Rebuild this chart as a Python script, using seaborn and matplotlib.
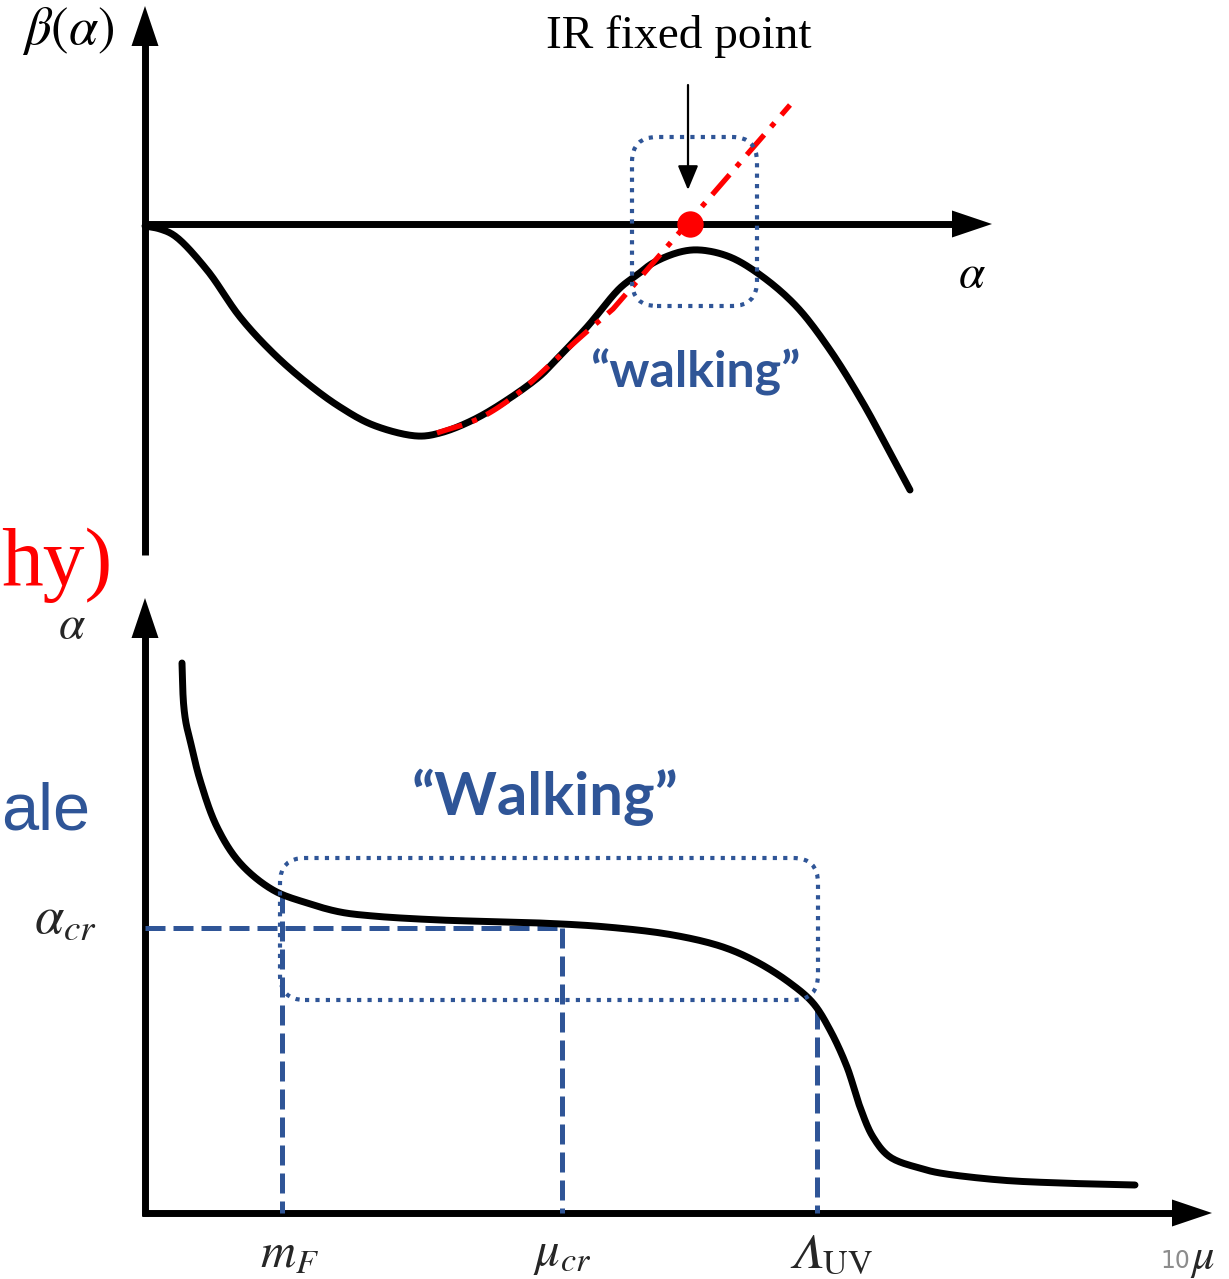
import numpy as np
import matplotlib
matplotlib.use("Agg")
import matplotlib.pyplot as plt
from matplotlib.patches import FancyBboxPatch, Polygon
import seaborn as sns

# ---- beta function beta(alpha) ----
beta_alpha = [0.00, 0.15, 0.30, 0.62, 0.95, 1.28, 1.62, 1.95, 2.28, 2.72, 2.95,
              3.28, 3.62, 3.95, 4.08, 4.42, 4.75, 4.92, 5.08, 5.35, 5.55, 5.85, 6.18,
              6.52, 6.85, 7.18, 7.42, 7.65]
beta_vals = [-0.02, -0.05, -0.12, -0.46, -0.93, -1.29, -1.59, -1.83, -2.01, -2.12, -2.09,
             -1.96, -1.76, -1.52, -1.39, -1.03, -0.64, -0.51, -0.39, -0.28, -0.26, -0.33, -0.53,
             -0.83, -1.26, -1.79, -2.23, -2.66]

# walking (near-conformal) approach toward the IR fixed point
walk_alpha = [2.92, 3.35, 3.72, 4.08, 4.38, 4.68, 6.45]
walk_beta = [-2.09, -1.94, -1.70, -1.38, -1.11, -0.85, 1.19]
ir_fixed_point = 5.45

# ---- running coupling alpha(mu) ----
mu_vals = [0.37, 0.385, 0.41, 0.45, 0.55, 0.72, 0.95, 1.28, 1.62, 1.95, 2.28, 2.95, 3.95,
           4.62, 5.28, 5.78, 6.12, 6.45, 6.68, 6.85, 7.02, 7.15, 7.28, 7.45, 7.78, 7.95,
           8.55, 9.15, 9.90]
alpha_vals = [5.50, 5.10, 4.90, 4.73, 4.33, 3.86, 3.50, 3.23, 3.10, 3.01, 2.97, 2.93, 2.90,
              2.86, 2.78, 2.66, 2.51, 2.30, 2.10, 1.83, 1.46, 1.06, 0.76, 0.56, 0.44, 0.40,
              0.33, 0.30, 0.28]
alpha_cr = 2.85
scale_mu = [1.37, 4.17, 6.72]
scale_labels = [r"$m_F$", r"$\mu_{cr}$", "$\U0001D6EC_{\\mathrm{UV}}$"]

BLUE = "#2F5597"
LW = 5.0

sns.set_theme(style="white")
plt.rcParams["font.family"] = ["DejaVu Sans"]
plt.rcParams["mathtext.fontset"] = "stix"

fig = plt.figure(figsize=(12.29, 12.79), dpi=100)
fig.patch.set_facecolor("white")

ax_top = fig.add_axes([0, 679 / 1279, 1, 600 / 1279])
ax_top.set_xlim(-1.45, 10.84)
ax_top.set_ylim(-3.76, 2.24)
ax_bot = fig.add_axes([0, 0, 1, 699 / 1279])
ax_bot.set_xlim(-1.45, 10.84)
ax_bot.set_ylim(-0.66, 6.33)
for ax in (ax_top, ax_bot):
    ax.set_axis_off()
    ax.patch.set_alpha(0)


def smooth_path(xs, ys, n=16):
    """Centripetal Catmull-Rom path through the given points, for a hand-drawn look."""
    p = np.column_stack([xs, ys]).astype(float)
    p = np.vstack([2 * p[0] - p[1], p, 2 * p[-1] - p[-2]])
    out = []
    for i in range(1, len(p) - 2):
        p0, p1, p2, p3 = p[i - 1], p[i], p[i + 1], p[i + 2]
        t0 = 0.0
        t1 = t0 + np.linalg.norm(p1 - p0) ** 0.5
        t2 = t1 + np.linalg.norm(p2 - p1) ** 0.5
        t3 = t2 + np.linalg.norm(p3 - p2) ** 0.5
        t = np.linspace(t1, t2, n, endpoint=False)[:, None]
        a1 = (t1 - t) / (t1 - t0) * p0 + (t - t0) / (t1 - t0) * p1
        a2 = (t2 - t) / (t2 - t1) * p1 + (t - t1) / (t2 - t1) * p2
        a3 = (t3 - t) / (t3 - t2) * p2 + (t - t2) / (t3 - t2) * p3
        b1 = (t2 - t) / (t2 - t0) * a1 + (t - t0) / (t2 - t0) * a2
        b2 = (t3 - t) / (t3 - t1) * a2 + (t - t1) / (t3 - t1) * a3
        out.append((t2 - t) / (t2 - t1) * b1 + (t - t1) / (t2 - t1) * b2)
    out.append(p[-2][None, :])
    c = np.vstack(out)
    return c[:, 0], c[:, 1]


def axis_arrow(ax, start, end, head_len=0.40, head_half=0.135):
    p0 = np.array(start, float)
    p1 = np.array(end, float)
    u = (p1 - p0) / np.hypot(*(p1 - p0))
    n = np.array([-u[1], u[0]])
    base = p1 - u * head_len
    ax.plot([p0[0], base[0] + u[0] * 0.05], [p0[1], base[1] + u[1] * 0.05],
            color="black", lw=LW, solid_capstyle="butt", clip_on=False, zorder=3)
    ax.add_patch(Polygon([p1, base + n * head_half, base - n * head_half], closed=True,
                         facecolor="black", edgecolor="none", clip_on=False, zorder=3))


# ---------------- top: beta(alpha) ----------------
axis_arrow(ax_top, (0, -3.31), (0, 2.18))
axis_arrow(ax_top, (-0.03, 0), (8.47, 0))

bx, by = smooth_path(beta_alpha, beta_vals)
sns.lineplot(x=bx, y=by, ax=ax_top, color="black", lw=LW,
             sort=False, estimator=None, zorder=4)
wx, wy = smooth_path(walk_alpha[:-1], walk_beta[:-1])
wx = np.append(wx, walk_alpha[-1])
wy = np.append(wy, walk_beta[-1])
ax_top.plot(wx, wy, color="#FF0000", lw=3.8,
            linestyle=(0, (5, 2, 1, 2)), zorder=5)
ax_top.plot([ir_fixed_point], [0], marker="o", ms=19, color="#FF0000",
            markeredgewidth=0, zorder=6)

ax_top.add_patch(FancyBboxPatch((4.87, -0.82), 1.25, 1.69,
                                boxstyle="round,pad=0,rounding_size=0.25",
                                fill=False, edgecolor=BLUE, lw=3.0,
                                linestyle=(0, (1, 1.5)), zorder=7))
ax_top.annotate("", xy=(5.43, 0.34), xytext=(5.43, 1.39),
                arrowprops=dict(arrowstyle="-|>,head_length=0.6,head_width=0.25",
                                mutation_scale=25, color="black", lw=1.6,
                                shrinkA=0, shrinkB=0), zorder=7)

ax_top.text(5.34, 1.87, "IR fixed point", ha="center", va="center",
            fontsize=34, family="Liberation Serif", color="black")
ax_top.text(-0.77, 1.93, r"$\beta(\alpha)$", ha="center", va="center",
            fontsize=38, color="black")
ax_top.text(8.27, -0.51, r"$\alpha$", ha="center", va="center",
            fontsize=34, color="black")
ax_top.text(5.50, -1.48, "\u201cwalking\u201d", ha="center", va="center",
            fontsize=36, family="Lato", weight="bold", color=BLUE)

# ---------------- bottom: alpha(mu) ----------------
axis_arrow(ax_bot, (0, -0.03), (0, 6.15))
axis_arrow(ax_bot, (-0.03, 0), (10.67, 0))

mx, my = smooth_path(mu_vals, alpha_vals)
sns.lineplot(x=mx, y=my, ax=ax_bot, color="black", lw=LW,
             sort=False, estimator=None, zorder=4)

dash = (0, (4, 1.6))
ax_bot.plot([0, scale_mu[1]], [alpha_cr, alpha_cr], color=BLUE, lw=3.6,
            linestyle=dash, zorder=3)
for i, m in enumerate(scale_mu):
    top = alpha_cr if i == 1 else np.interp(m, mu_vals, alpha_vals)
    ax_bot.plot([m, m], [top, 0], color=BLUE, lw=3.6, linestyle=dash, zorder=3)

ax_bot.add_patch(FancyBboxPatch((1.35, 2.13), 5.38, 1.42,
                                boxstyle="round,pad=0,rounding_size=0.25",
                                fill=False, edgecolor=BLUE, lw=3.0,
                                linestyle=(0, (1, 1.5)), zorder=7))

ax_bot.text(-0.73, 5.88, r"$\alpha$", ha="center", va="center", fontsize=34)
ax_bot.text(-0.80, 2.95, r"$\alpha_{cr}$", ha="center", va="center", fontsize=38)
label_dx = [0.08, 0.0, 0.14]
for m, lab, dx in zip(scale_mu, scale_labels, label_dx):
    ax_bot.text(m + dx, -0.40, lab, ha="center", va="center", fontsize=35)
ax_bot.text(10.45, -0.48, "10", ha="right", va="center", fontsize=17,
            family="DejaVu Sans", color="#8C8C8C")
ax_bot.text(10.45, -0.46, r"$\mu$", ha="left", va="center", fontsize=32)
ax_bot.text(4.00, 4.16, "\u201cWalking\u201d", ha="center", va="center",
            fontsize=43, family="Lato", weight="bold", color=BLUE)

# side captions at the left edge
fig.text(1 / 1229, 1 - 585 / 1279, "hy)", ha="left", va="baseline",
         fontsize=60, family="Liberation Serif", color="#FF0000")
fig.text(1 / 1229, 1 - 830 / 1279, "ale", ha="left", va="baseline",
         fontsize=48, family="Liberation Sans", color=BLUE)

fig.savefig("out.png", dpi=100, facecolor="white")
